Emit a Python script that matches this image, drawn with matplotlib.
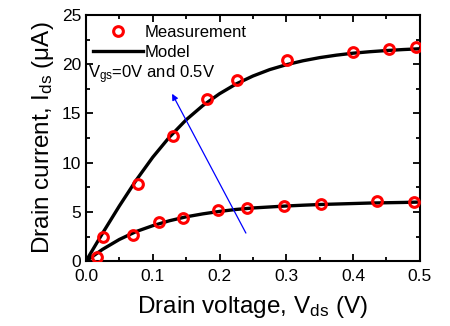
"""Drain current vs drain voltage: measurement and model for two gate biases."""

import matplotlib
matplotlib.use("Agg")
import matplotlib.pyplot as plt
from matplotlib.ticker import MultipleLocator

plt.rcParams["font.family"] = ["Liberation Sans", "DejaVu Sans"]
plt.rcParams["mathtext.fontset"] = "custom"
plt.rcParams["mathtext.rm"] = "Liberation Sans"
plt.rcParams["mathtext.it"] = "Liberation Sans"

# Measured points (Vgs = 0.5 V, upper set)
vds_hi = [0.025, 0.078, 0.13, 0.181, 0.226, 0.301, 0.40, 0.454, 0.494]
ids_hi = [2.4, 7.8, 12.7, 16.5, 18.4, 20.4, 21.2, 21.5, 21.7]

# Measured points (Vgs = 0 V, lower set)
vds_lo = [0.017, 0.071, 0.109, 0.145, 0.198, 0.241, 0.296, 0.352, 0.436, 0.491]
ids_lo = [0.4, 2.7, 4.0, 4.4, 5.2, 5.4, 5.6, 5.8, 6.1, 6.0]

# Model curves, read every 0.025 V
vds_model = [0.0, 0.025, 0.05, 0.075, 0.1, 0.125, 0.15, 0.175, 0.2, 0.225, 0.25,
             0.275, 0.3, 0.325, 0.35, 0.375, 0.4, 0.425, 0.45, 0.475, 0.5]
model_hi = [0.0, 2.85, 5.6, 8.2, 10.55, 12.6, 14.35, 15.8, 17.0, 18.0, 18.8,
            19.45, 19.95, 20.35, 20.67, 20.92, 21.12, 21.27, 21.39, 21.49, 21.57]
model_lo = [0.0, 1.2, 2.2, 3.0, 3.6, 4.1, 4.5, 4.8, 5.05, 5.25, 5.4,
            5.5, 5.6, 5.68, 5.75, 5.8, 5.85, 5.9, 5.93, 5.96, 6.0]

# Arrow from the low-bias curve towards the high-bias one
arrow_tail = (0.2395, 2.85)
arrow_head = (0.129, 17.0)

fig = plt.figure(figsize=(4.5, 3.26), dpi=100)
ax = fig.add_axes([0.191, 0.199, 0.742, 0.755])

marker_style = dict(ls="none", marker="o", ms=7, mfc="none", mec="red", mew=2.2, zorder=3)
ax.plot(vds_hi, ids_hi, label="Measurement", **marker_style)
ax.plot(vds_lo, ids_lo, **marker_style)
ax.plot(vds_model, model_hi, color="black", lw=2.4, label="Model", zorder=2)
ax.plot(vds_model, model_lo, color="black", lw=2.4, zorder=2)

ax.annotate("", xy=arrow_head, xytext=arrow_tail,
            arrowprops=dict(arrowstyle="-|>", color="blue", lw=0.9,
                            mutation_scale=9, shrinkA=0, shrinkB=0))

ax.text(0.003, 18.9, "V$_{\\rm gs}$=0V and 0.5V", fontsize=12, va="center", ha="left")

ax.legend(loc="upper left", bbox_to_anchor=(-0.01, 1.0), frameon=False, fontsize=12,
          handlelength=3.0, handletextpad=0.15, labelspacing=0.3, numpoints=1,
          borderaxespad=0.2)

ax.set_xlim(0, 0.5)
ax.set_ylim(0, 25)
ax.xaxis.set_major_locator(MultipleLocator(0.1))
ax.xaxis.set_minor_locator(MultipleLocator(0.05))
ax.yaxis.set_major_locator(MultipleLocator(5))
ax.yaxis.set_minor_locator(MultipleLocator(2.5))
ax.xaxis.set_major_formatter(plt.FuncFormatter(lambda v, p: f"{v:.1f}"))

ax.tick_params(which="both", direction="in", top=True, right=True, width=1.3, labelsize=12.5)
ax.tick_params(which="major", length=5)
ax.tick_params(which="minor", length=3)
ax.tick_params(axis="x", pad=6)
ax.tick_params(axis="y", pad=3.5)
for s in ax.spines.values():
    s.set_linewidth(1.5)

ax.set_xlabel("Drain voltage, V$_{\\rm ds}$ (V)", fontsize=17.5, labelpad=7)
ax.set_ylabel("Drain current, I$_{\\rm ds}$ ($\\mu$A)", fontsize=17.5, labelpad=4)

fig.savefig("out.png", dpi=100)
